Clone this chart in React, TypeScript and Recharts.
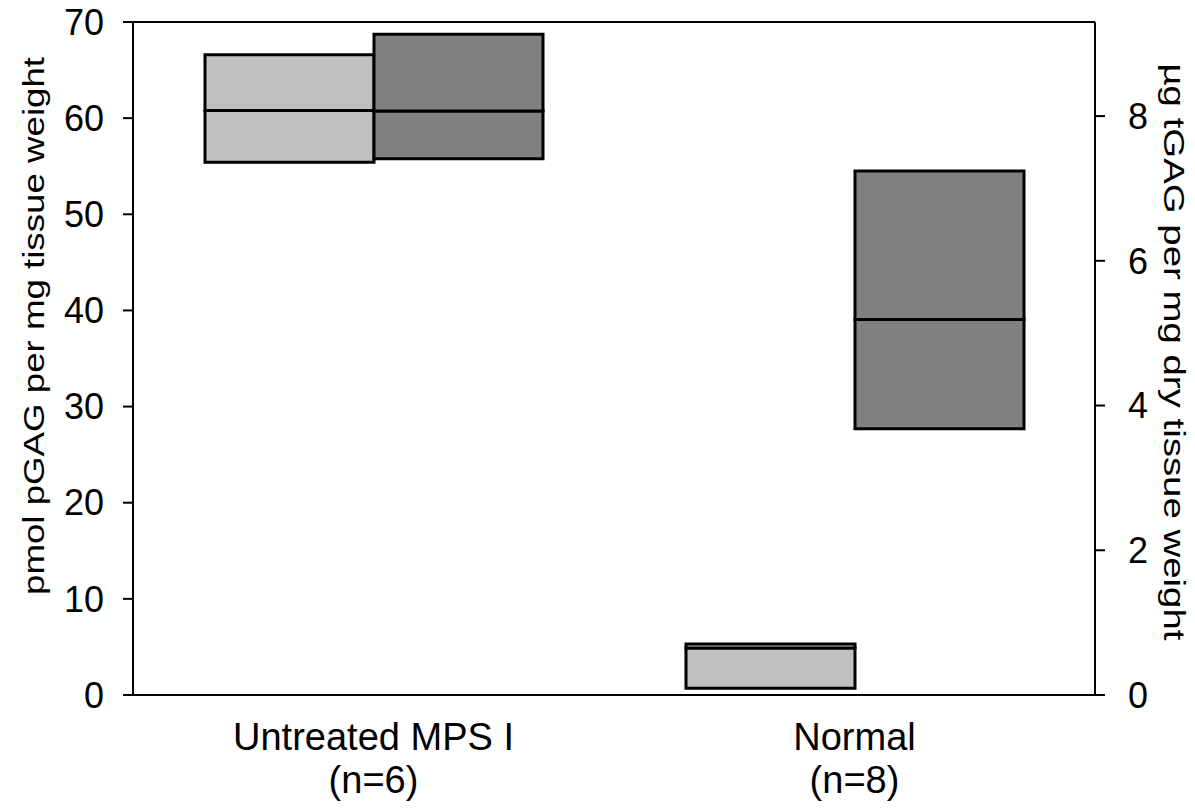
import React from 'react';
import { BarChart, Bar, XAxis, YAxis, ReferenceLine } from 'recharts';

const groups = ['Untreated MPS I', 'Normal'];
const groupSizes = ['(n=6)', '(n=8)'];

// pGAG, left axis (pmol per mg tissue weight): box low / median / high
const pgagLow = [55.4, 0.7];
const pgagMedian = [60.8, 4.9];
const pgagHigh = [66.6, 5.3];

// tGAG, right axis (ug per mg dry tissue weight)
const tgagLow = [7.41, 3.68];
const tgagMedian = [8.07, 5.19];
const tgagHigh = [9.13, 7.24];

const leftTicks = [0, 10, 20, 30, 40, 50, 60, 70];
const rightTicks = [0, 2, 4, 6, 8];

const light = '#c0c0c0';
const dark = '#808080';
const ink = '#000';
const font = '"Liberation Sans", Arial, sans-serif';

const data = groups.map((name, i) => ({
	name,
	pgBase: pgagLow[i],
	pgLower: pgagMedian[i] - pgagLow[i],
	pgUpper: pgagHigh[i] - pgagMedian[i],
	tgBase: tgagLow[i],
	tgLower: tgagMedian[i] - tgagLow[i],
	tgUpper: tgagHigh[i] - tgagMedian[i]
}));

const GroupTick = (props: any) => {
	const { x, y, payload, index } = props;
	return (
		<g>
			<text x={x} y={y + 55} textAnchor="middle" fontSize={38} fill={ink} fontFamily={font}>
				{payload.value}
			</text>
			<text x={x} y={y + 98} textAnchor="middle" fontSize={38} fill={ink} fontFamily={font}>
				{groupSizes[index]}
			</text>
		</g>
	);
};

const LeftTitle = () => (
	<text
		transform="translate(44,326) rotate(-90)"
		textAnchor="middle"
		fontSize={29}
		fill={ink}
		fontFamily={font}
		textLength={538}
		lengthAdjust="spacingAndGlyphs"
	>
		pmol pGAG per mg tissue weight
	</text>
);

const RightTitle = () => (
	<text
		transform="translate(1164,352) rotate(90)"
		textAnchor="middle"
		fontSize={30}
		fill={ink}
		fontFamily={font}
		textLength={577}
		lengthAdjust="spacingAndGlyphs"
	>
		µg tGAG per mg dry tissue weight
	</text>
);

const axisStyle = { stroke: ink, strokeWidth: 2 };

export default function App() {
	return (
		<div style={{ position: 'absolute', left: 0, top: 0, background: '#fff' }}>
			<BarChart
				width={1195}
				height={811}
				data={data}
				margin={{ top: 22, right: 0, bottom: 0, left: 0 }}
				barSize={169}
				barGap={0}
				style={{ fontFamily: font }}
			>
				<XAxis
					dataKey="name"
					height={116}
					axisLine={axisStyle}
					tickLine={false}
					tickSize={0}
					tickMargin={0}
					tick={<GroupTick />}
					interval={0}
				/>
				<YAxis
					yAxisId="left"
					width={133}
					domain={[0, 70]}
					ticks={leftTicks}
					tickSize={10}
					tickMargin={19}
					axisLine={axisStyle}
					tickLine={axisStyle}
					tick={{ fontSize: 36, fill: ink }}
					label={<LeftTitle />}
				/>
				<YAxis
					yAxisId="right"
					orientation="right"
					width={100}
					domain={[0, 9.3]}
					ticks={rightTicks}
					tickSize={10}
					tickMargin={23}
					axisLine={axisStyle}
					tickLine={axisStyle}
					tick={{ fontSize: 36, fill: ink }}
					label={<RightTitle />}
				/>
				<ReferenceLine yAxisId="left" y={70} stroke={ink} strokeWidth={2} />

				<Bar yAxisId="left" stackId="pg" dataKey="pgBase" fill="transparent" stroke="none" isAnimationActive={false} />
				<Bar yAxisId="left" stackId="pg" dataKey="pgLower" fill={light} stroke={ink} strokeWidth={3} isAnimationActive={false} />
				<Bar yAxisId="left" stackId="pg" dataKey="pgUpper" fill={light} stroke={ink} strokeWidth={3} isAnimationActive={false} />

				<Bar yAxisId="right" stackId="tg" dataKey="tgBase" fill="transparent" stroke="none" isAnimationActive={false} />
				<Bar yAxisId="right" stackId="tg" dataKey="tgLower" fill={dark} stroke={ink} strokeWidth={3} isAnimationActive={false} />
				<Bar yAxisId="right" stackId="tg" dataKey="tgUpper" fill={dark} stroke={ink} strokeWidth={3} isAnimationActive={false} />
			</BarChart>
		</div>
	);
}
